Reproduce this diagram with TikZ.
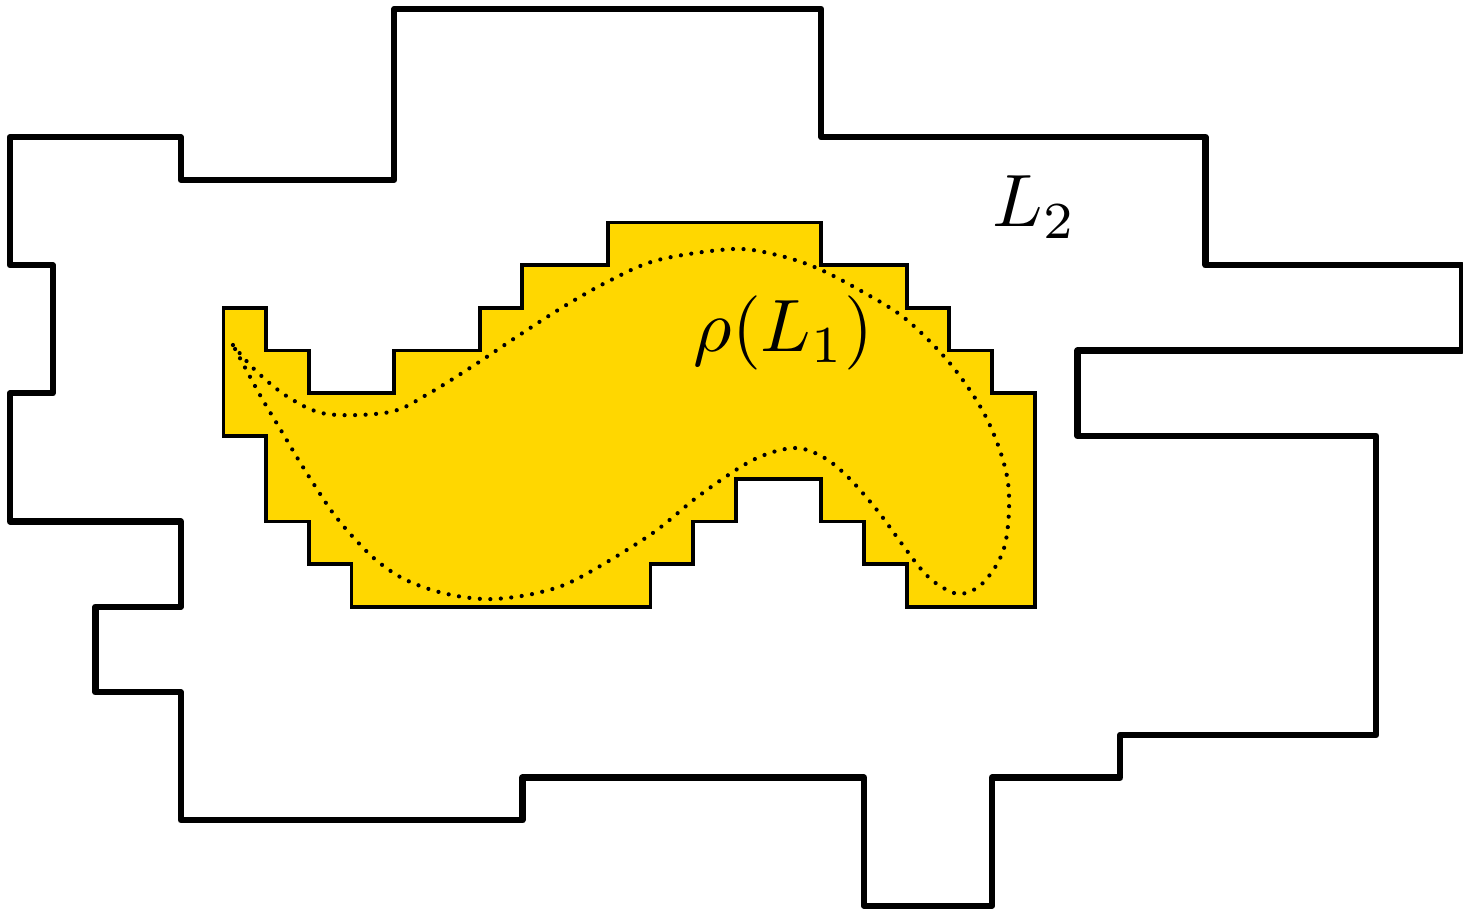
\documentclass[tikz,border=0pt]{standalone}
\definecolor{gold}{HTML}{FFD700}
\tikzset{
  outerline/.style={line width=4.2pt, line join=round, line cap=round},
  innerregion/.style={fill=gold, draw=black, line width=2.5pt, line join=miter},
  dotcurve/.style={line width=2.8pt, line cap=round, dash pattern=on 0pt off 7pt},
  biglabel/.style={scale=4.95, inner sep=0pt}
}
\begin{document}
\begin{tikzpicture}[x=1cm,y=1cm]
\useasboundingbox (-0.234,0.211) rectangle (34.03,-21.17);
% outer region L2
\draw[outerline] (0,-3) -- (4,-3) -- (4,-4) -- (9,-4) -- (9,0) -- (19,0) -- (19,-3) -- (28,-3) -- (28,-6) -- (34,-6) -- (34,-8) -- (25,-8) -- (25,-10) -- (32,-10) -- (32,-17) -- (26,-17) -- (26,-18) -- (23,-18) -- (23,-21) -- (20,-21) -- (20,-18) -- (12,-18) -- (12,-19) -- (4,-19) -- (4,-16) -- (2,-16) -- (2,-14) -- (4,-14) -- (4,-12) -- (0,-12) -- (0,-9) -- (1,-9) -- (1,-6) -- (0,-6) -- cycle;
% inner region rho(L1)
\draw[innerregion] (5,-7) -- (6,-7) -- (6,-8) -- (7,-8) -- (7,-9) -- (9,-9) -- (9,-8) -- (11,-8) -- (11,-7) -- (12,-7) -- (12,-6) -- (14,-6) -- (14,-5) -- (19,-5) -- (19,-6) -- (21,-6) -- (21,-7) -- (22,-7) -- (22,-8) -- (23,-8) -- (23,-9) -- (24,-9) -- (24,-14) -- (21,-14) -- (21,-13) -- (20,-13) -- (20,-12) -- (19,-12) -- (19,-11) -- (17,-11) -- (17,-12) -- (16,-12) -- (16,-13) -- (15,-13) -- (15,-14) -- (8,-14) -- (8,-13) -- (7,-13) -- (7,-12) -- (6,-12) -- (6,-10) -- (5,-10) -- cycle;
% dotted curve
\draw[dotcurve] plot[smooth, tension=0.55] coordinates {
 (5.222,-7.869) (5.738,-8.454) (6.511,-9.087) (7.424,-9.485) (8.899,-9.438) (9.789,-9.016) (10.843,-8.361) (11.897,-7.658) (12.951,-6.979) (14.028,-6.370) (15.176,-5.878) (16.932,-5.621) (17.963,-5.761) (18.899,-6.066) (19.977,-6.628) (21.007,-7.283) (22.084,-8.384) (22.904,-9.649) (23.372,-11.077) (23.302,-12.553) (22.810,-13.419) (22.25,-13.70) (21.710,-13.466) (21.335,-13.115) (20.890,-12.529) (20.304,-11.733) (19.625,-10.960) (19.040,-10.492) (18.361,-10.281) (17.400,-10.562) (16.159,-11.382) (14.988,-12.319) (13.279,-13.349) (12.342,-13.677) (11.358,-13.817) (10.609,-13.770) (9.883,-13.607) (9.180,-13.325) (8.571,-12.904) (8.033,-12.365) (7.564,-11.803) (7.143,-11.171) (6.745,-10.539) (6.370,-9.906) (5.855,-9.040) (5.222,-7.869)};
% labels
\node[biglabel] (l2) at (24.0,-4.64) {$L_2$};
\node[biglabel] (rl1) at (18.12,-7.59) {$\rho(L_1)$};
\end{tikzpicture}
\end{document}
